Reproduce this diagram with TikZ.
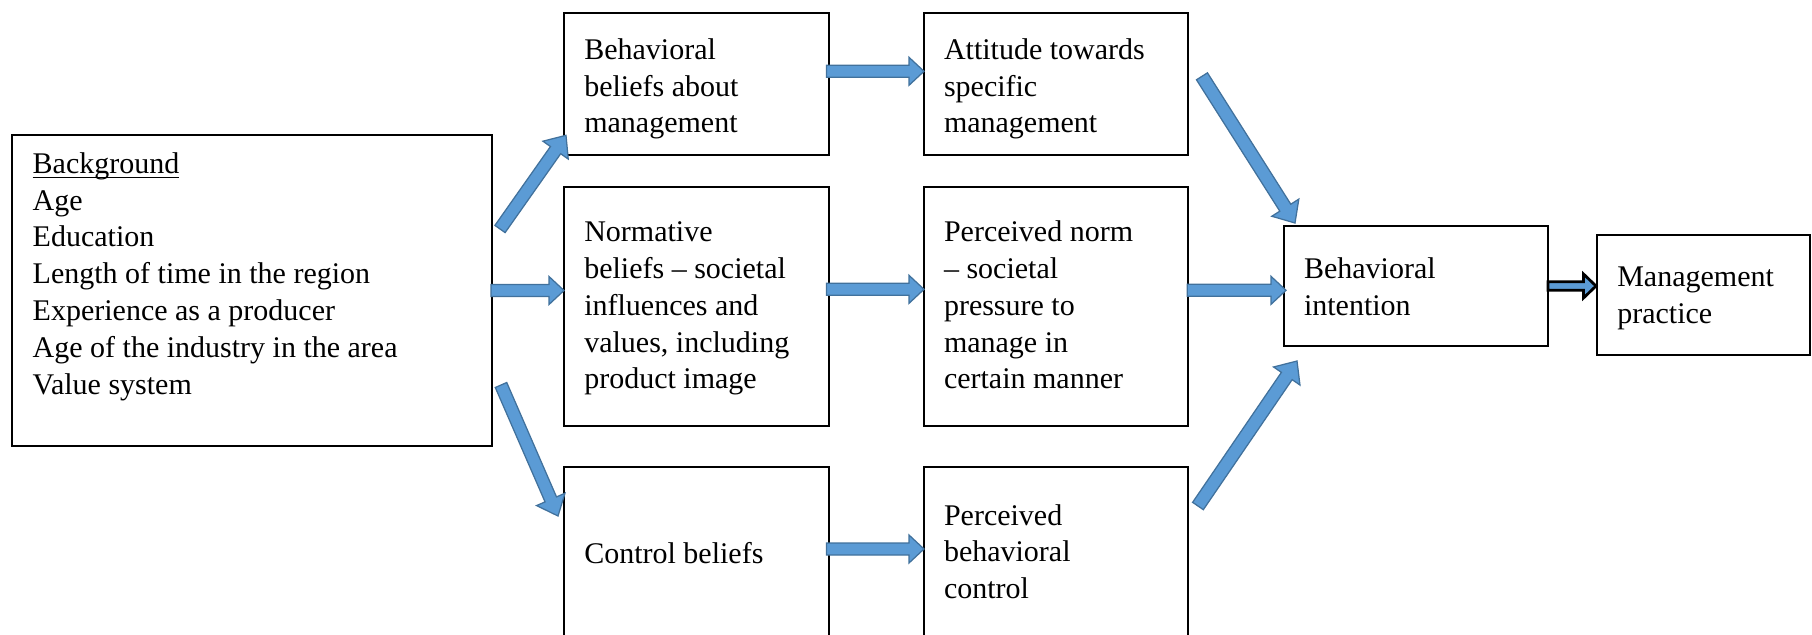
\documentclass[tikz,border=0pt]{standalone}
\usepackage{fontspec}
\setmainfont{Liberation Serif}
\usetikzlibrary{calc}
\definecolor{arrowfill}{HTML}{5B9BD5}
\definecolor{arrowline}{HTML}{41719C}
\newcommand\ulword[1]{\leavevmode\setbox0\hbox{#1}\rlap{\rule[-1.9pt]{\wd0}{0.55pt}}#1}
\tikzset{
  box/.style={draw, line width=0.8pt, inner sep=0pt, outer sep=0pt, anchor=north west},
  txt/.style={inner sep=0pt, outer sep=0pt, anchor=base west, font=\fontsize{12}{14.72}\selectfont},
  barrow/.style={fill=arrowfill, draw=arrowline, line width=0.5pt, line join=miter}
}
% #1 extra style, #2 start, #3 tip, #4 shaft half width, #5 head half width, #6 head length
\newcommand\blockarr[6][]{%
  \path[barrow,#1] let \p1=(#2), \p2=(#3),
    \n1={atan2(\y2-\y1,\x2-\x1)},
    \n2={veclen(\x2-\x1,\y2-\y1)-#6} in
    ($(\p1)+(\n1+90:#4)$) -- ($(\p1)+(\n1:\n2)+(\n1+90:#4)$)
    -- ($(\p1)+(\n1:\n2)+(\n1+90:#5)$) -- (\p2)
    -- ($(\p1)+(\n1:\n2)+(\n1-90:#5)$) -- ($(\p1)+(\n1:\n2)+(\n1-90:#4)$)
    -- ($(\p1)+(\n1-90:#4)$) -- cycle;}
\begin{document}
\begin{tikzpicture}[x=0.4pt,y=-0.4pt]
\useasboundingbox (0,0) rectangle (1812,634);
% boxes
\node[box, minimum width=192pt, minimum height=124.4pt] (bg) at (12,135) {};
\node[box, minimum width=105.8pt, minimum height=56.8pt] (bb) at (564,13.3) {};
\node[box, minimum width=105.8pt, minimum height=95.7pt] (nb) at (564,186.7) {};
\node[box, minimum width=105.8pt, minimum height=69.2pt] (cb) at (564,467) {};
\node[box, minimum width=105.7pt, minimum height=56.8pt] (att) at (924,13.3) {};
\node[box, minimum width=105.7pt, minimum height=95.7pt] (pn) at (924,186.7) {};
\node[box, minimum width=105.7pt, minimum height=69.2pt] (pbc) at (924,467) {};
\node[box, minimum width=105.6pt, minimum height=48pt] (bi) at (1284,226) {};
\node[box, minimum width=85.2pt, minimum height=47.8pt] (mp) at (1597,235) {};
% texts
\node[txt] (bgt) at ($(bg.north west)+(20.7,38.3)$) {\parbox[t]{185pt}{\raggedright\ulword{Background}\\Age\\Education\\Length of time in the region\\Experience as a producer\\Age of the industry in the area\\Value system}};
\node[txt] (bbt) at ($(bb.north west)+(20.3,46)$) {\parbox[t]{95pt}{\raggedright Behavioral\\beliefs about\\management}};
\node[txt] (nbt) at ($(nb.north west)+(20.3,55)$) {\parbox[t]{95pt}{\raggedright Normative\\beliefs – societal\\influences and\\values, including\\product image}};
\node[txt] (cbt) at ($(cb.north west)+(20.3,96.3)$) {\parbox[t]{95pt}{\raggedright Control beliefs}};
\node[txt] (attt) at ($(att.north west)+(20,46)$) {\parbox[t]{95pt}{\raggedright Attitude towards\\specific\\management}};
\node[txt] (pnt) at ($(pn.north west)+(20,55)$) {\parbox[t]{95pt}{\raggedright Perceived norm\\– societal\\pressure to\\manage in\\certain manner}};
\node[txt] (pbct) at ($(pbc.north west)+(20,58)$) {\parbox[t]{95pt}{\raggedright Perceived\\behavioral\\control}};
\node[txt] (bit) at ($(bi.north west)+(20,52.3)$) {\parbox[t]{95pt}{\raggedright Behavioral\\intention}};
\node[txt] (mpt) at ($(mp.north west)+(20.3,51.7)$) {\parbox[t]{80pt}{\raggedright Management\\practice}};
% arrow end points
\coordinate (a1s) at ($(bg.north east)+(8,94)$);
\coordinate (a1e) at ($(bb.south west)+(2,-20)$);
\coordinate (a2s) at ($(bg.east)+(-1,0)$);
\coordinate (a2e) at (nb.west |- a2s);
\coordinate (a3s) at ($(bg.south east)+(9,-61)$);
\coordinate (a3e) at ($(cb.north west)+(-6,49)$);
\coordinate (a4s) at ($(bb.east)+(-2,-13)$);
\coordinate (a4e) at (att.west |- a4s);
\coordinate (a5s) at ($(nb.east)+(-2,-17)$);
\coordinate (a5e) at (pn.west |- a5s);
\coordinate (a6s) at ($(cb.north east)+(-2,82)$);
\coordinate (a6e) at (pbc.west |- a6s);
\coordinate (a7s) at ($(att.north east)+(13.7,63)$);
\coordinate (a7e) at ($(bi.north west)+(11,-3)$);
\coordinate (a8s) at ($(pn.east)+(-1,-16)$);
\coordinate (a8e) at ($(bi.west |- a8s)+(2,0)$);
\coordinate (a9s) at ($(pbc.north east)+(9.7,39)$);
\coordinate (a9e) at ($(bi.south west)+(13,15)$);
\coordinate (a10s) at (bi.east);
\coordinate (a10e) at ($(mp.west |- bi.east)+(-1,0)$);
% arrows
\blockarr{a1s}{a1e}{2.5pt}{6.2pt}{7.2pt}
\blockarr{a2s}{a2e}{2.4pt}{5.6pt}{6pt}
\blockarr{a3s}{a3e}{2.5pt}{6.2pt}{7.2pt}
\blockarr{a4s}{a4e}{2.4pt}{5.6pt}{6pt}
\blockarr{a5s}{a5e}{2.4pt}{5.6pt}{6pt}
\blockarr{a6s}{a6e}{2.4pt}{5.6pt}{6pt}
\blockarr{a7s}{a7e}{2.6pt}{6.4pt}{7.2pt}
\blockarr{a8s}{a8e}{2.4pt}{5.6pt}{6pt}
\blockarr{a9s}{a9e}{2.6pt}{6.4pt}{7.2pt}
\blockarr[draw=black, line width=1.1pt]{a10s}{a10e}{1.7pt}{4.8pt}{5pt}
\end{tikzpicture}
\end{document}
